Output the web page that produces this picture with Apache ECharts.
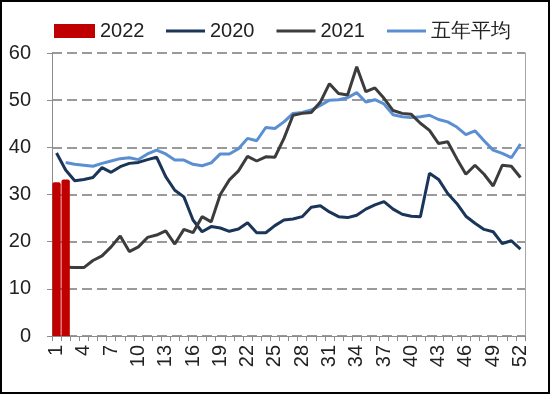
<!DOCTYPE html>
<html>
<head>
<meta charset="utf-8">
<script src="https://cdn.jsdelivr.net/npm/echarts@6/dist/echarts.min.js"></script>
<style>
html,body{margin:0;padding:0;background:#fff;}
#c{width:550px;height:394px;}
</style>
</head>
<body>
<div id="c"></div>
<script>
var weeks = ['1','2','3','4','5','6','7','8','9','10','11','12','13','14','15','16','17','18','19','20','21','22','23','24','25','26','27','28','29','30','31','32','33','34','35','36','37','38','39','40','41','42','43','44','45','46','47','48','49','50','51','52'];
var y2022 = [32.6, 33.2];
var y2020 = [38.8,35.2,32.9,33.2,33.6,35.7,34.7,35.9,36.6,36.8,37.4,37.9,33.8,30.9,29.5,24.6,22.1,23.2,22.9,22.2,22.7,24.0,21.9,21.9,23.4,24.6,24.8,25.3,27.3,27.6,26.3,25.3,25.1,25.6,26.9,27.8,28.5,26.9,25.8,25.4,25.3,34.5,33.2,30.2,28.1,25.4,23.9,22.6,22.1,19.6,20.2,18.4];
var y2021 = [null,14.6,14.5,14.5,16.0,17.0,18.9,21.2,17.9,18.9,20.9,21.4,22.3,19.5,22.6,21.9,25.3,24.2,30.0,33.1,35.0,38.1,37.1,38.0,37.9,41.9,46.8,47.2,47.4,49.6,53.5,51.4,51.1,57.1,51.8,52.6,50.4,47.8,47.2,47.0,45.1,43.6,40.8,41.2,37.6,34.3,36.2,34.3,31.8,36.2,36.0,33.6];
var yAvg = [null,36.8,36.4,36.2,36.0,36.6,37.1,37.6,37.8,37.4,38.6,39.4,38.6,37.3,37.3,36.4,36.1,36.7,38.6,38.6,39.7,41.9,41.4,44.2,44.0,45.4,47.2,47.4,47.9,48.9,50.0,50.1,50.5,51.6,49.6,50.1,49.2,46.9,46.5,46.3,46.5,46.8,45.9,45.4,44.3,42.7,43.5,41.4,39.4,38.7,37.8,40.7];
var yTicks = [0,10,20,30,40,50,60];

var bars = weeks.map(function(w,i){ return i < y2022.length ? y2022[i] : null; });
var FONT = '"Liberation Sans", Arial, sans-serif';
var legendText = {fontSize:20, color:'#222', fontFamily:FONT};

var chart = echarts.init(document.getElementById('c'), null, {renderer:'canvas'});
chart.setOption({
  animation:false,
  backgroundColor:'#fff',
  textStyle:{fontFamily:FONT},
  legend:[{
    left:49, top:16, itemWidth:41, itemHeight:14, itemGap:22,
    textStyle:legendText,
    data:[{name:'2022', icon:'rect'}]
  },{
    left:161, top:16, itemWidth:39, itemHeight:3, itemGap:22,
    textStyle:legendText,
    data:[{name:'2020', icon:'rect'},{name:'2021', icon:'rect'},{name:'五年平均', icon:'rect'}]
  }],
  grid:{left:52, right:25, top:53, bottom:58},
  xAxis:{
    type:'category', data:weeks, boundaryGap:true,
    axisLine:{lineStyle:{color:'#8c8c8c', width:1}},
    axisTick:{show:true, interval:0, length:5, lineStyle:{color:'#8c8c8c'}},
    axisLabel:{interval:2, rotate:90, fontSize:20, color:'#222', margin:9, fontFamily:FONT},
    splitLine:{show:false}
  },
  yAxis:[{
    type:'value', min:0, max:60, interval:10,
    axisLine:{show:true, lineStyle:{color:'#8c8c8c', width:1}},
    axisTick:{show:true, length:5, lineStyle:{color:'#8c8c8c'}},
    axisLabel:{fontSize:20, color:'#222', margin:21, fontFamily:FONT,
      formatter:function(v){ return yTicks.indexOf(v) >= 0 ? String(v) : ''; }},
    splitLine:{show:true, lineStyle:{color:'#7a7a7a', width:1.5, type:[10,5]}}
  },{
    type:'value', min:0, max:60, interval:10, position:'right',
    axisLine:{show:true, lineStyle:{color:'#a6a6a6', width:1}},
    axisTick:{show:false}, axisLabel:{show:false}, splitLine:{show:false}
  }],
  series:[
    {name:'2022', type:'bar', data:bars, barCategoryGap:'8%', z:5,
      itemStyle:{color:'#C00000', borderRadius:[2,2,0,0]}},
    {name:'2020', type:'line', data:y2020, symbol:'none', z:2,
      lineStyle:{color:'#1B3559', width:3}, itemStyle:{color:'#1B3559'}},
    {name:'2021', type:'line', data:y2021, symbol:'none', z:2,
      lineStyle:{color:'#3C3C3C', width:3}, itemStyle:{color:'#3C3C3C'}},
    {name:'五年平均', type:'line', data:yAvg, symbol:'none', z:1,
      lineStyle:{color:'#5B8FD2', width:3}, itemStyle:{color:'#5B8FD2'}}
  ],
  graphic:[{
    type:'rect', silent:true, z:100,
    shape:{x:1, y:1, width:548, height:392},
    style:{fill:null, stroke:'#000', lineWidth:2}
  }]
});
</script>
</body>
</html>
